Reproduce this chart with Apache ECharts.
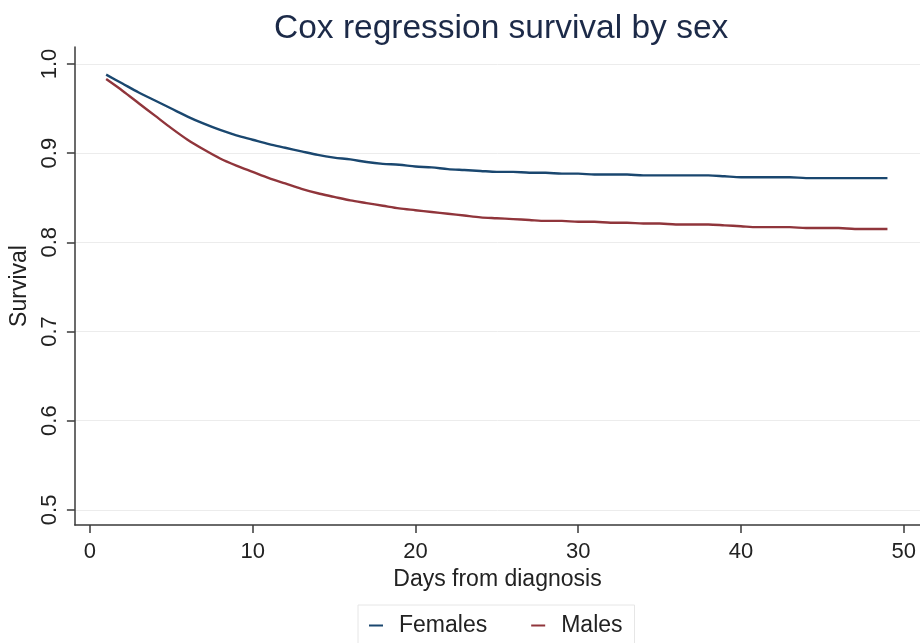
<!DOCTYPE html>
<html>
<head>
<meta charset="utf-8">
<script src="https://cdn.jsdelivr.net/npm/echarts@6/dist/echarts.min.js"></script>
<style>
html,body{margin:0;padding:0;background:#fff;}
#chart{width:920px;height:643px;}
</style>
</head>
<body>
<div id="chart"></div>
<script>
var days = [1,2,3,4,5,6,7,8,9,10,11,12,13,14,15,16,17,18,19,20,21,22,23,24,25,26,27,28,29,30,31,32,33,34,35,36,37,38,39,40,41,42,43,44,45,46,47,48,49];
var females = [0.988,0.978,0.968,0.959,0.950,0.941,0.933,0.926,0.920,0.915,0.910,0.906,0.902,0.898,0.895,0.893,0.890,0.888,0.887,0.885,0.884,0.882,0.881,0.880,0.879,0.879,0.878,0.878,0.877,0.877,0.876,0.876,0.876,0.875,0.875,0.875,0.875,0.875,0.874,0.873,0.873,0.873,0.873,0.872,0.872,0.872,0.872,0.872,0.872];
var males = [0.983,0.970,0.956,0.942,0.928,0.915,0.904,0.894,0.886,0.879,0.872,0.866,0.860,0.855,0.851,0.847,0.844,0.841,0.838,0.836,0.834,0.832,0.830,0.828,0.827,0.826,0.825,0.824,0.824,0.823,0.823,0.822,0.822,0.821,0.821,0.820,0.820,0.820,0.819,0.818,0.817,0.817,0.817,0.816,0.816,0.816,0.815,0.815,0.815];
var xTicks = [0,10,20,30,40,50];
var yTicks = [0.5,0.6,0.7,0.8,0.9,1.0];
var seriesNames = ['Females','Males'];

function pairs(xs, ys){ return xs.map(function(x,i){ return [x, ys[i]]; }); }

var chart = echarts.init(document.getElementById('chart'), null, {renderer:'canvas'});
var font = 'Liberation Sans, Arial, sans-serif';
var axisColor = '#3a3a3a';
chart.setOption({
  animation:false,
  backgroundColor:'#ffffff',
  title:{
    text:'Cox regression survival by sex',
    left:269, top:7,
    textStyle:{fontFamily:font,fontSize:33.5,fontWeight:'normal',color:'#1c2a48'}
  },
  legend:{
    data:seriesNames,
    left:358, top:605,
    padding:[9,12,9,11],
    itemGap:44,
    itemWidth:14, itemHeight:2,
    icon:'rect',
    borderColor:'#e6e6e6', borderWidth:1,
    formatter:function(n){ return '{a|'+n+'}'; },
    textStyle:{fontFamily:font,fontSize:23,color:'#222',
      rich:{a:{fontFamily:font,fontSize:23,color:'#222',padding:[0,0,0,11]}}}
  },
  grid:{left:74,right:0,top:47,bottom:118,containLabel:false},
  xAxis:{
    type:'value', min:-0.92, max:51,
    name:'Days from diagnosis', nameLocation:'middle', nameGap:43,
    nameTextStyle:{fontFamily:font,fontSize:23,color:'#222'},
    axisLine:{show:true,onZero:false,lineStyle:{color:axisColor,width:1.5}},
    axisTick:{show:true,length:8,customValues:xTicks,lineStyle:{color:axisColor,width:1.5}},
    axisLabel:{customValues:xTicks,margin:16,fontFamily:font,fontSize:22,color:'#222'},
    splitLine:{show:false}
  },
  yAxis:{
    type:'value', min:0.483, max:1.019,
    name:'Survival', nameLocation:'middle', nameGap:43,
    nameTextStyle:{fontFamily:font,fontSize:23,color:'#222'},
    axisLine:{show:true,onZero:false,lineStyle:{color:axisColor,width:1.5}},
    axisTick:{show:true,length:8,customValues:yTicks,lineStyle:{color:axisColor,width:1.5}},
    axisLabel:{customValues:yTicks,rotate:90,margin:14,fontFamily:font,fontSize:22,color:'#222',
      formatter:function(v){ return v.toFixed(1); }},
    splitLine:{show:true,lineStyle:{color:'#ececec',width:1}}
  },
  series:[
    {name:seriesNames[0],type:'line',data:pairs(days,females),showSymbol:false,smooth:0.3,
     lineStyle:{color:'#1a476f',width:2.4},itemStyle:{color:'#1a476f'}},
    {name:seriesNames[1],type:'line',data:pairs(days,males),showSymbol:false,smooth:0.3,
     lineStyle:{color:'#90353b',width:2.4},itemStyle:{color:'#90353b'}}
  ]
});
</script>
</body>
</html>
